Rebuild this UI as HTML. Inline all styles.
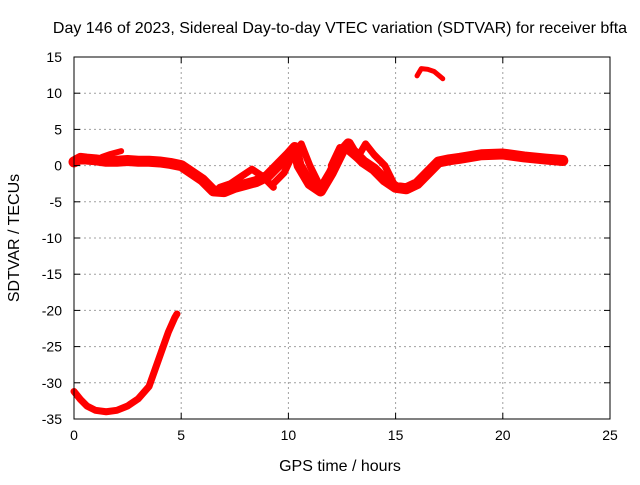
<!DOCTYPE html>
<html><head><meta charset="utf-8"><style>
body{margin:0;background:#fff}
svg text{font-family:"Liberation Sans",sans-serif;font-size:14px;fill:#000}
svg text.big{font-size:16px}
</style></head><body>
<svg id="chart" width="640" height="480">
<text class="big" x="340" y="33" text-anchor="middle">Day 146 of 2023, Sidereal Day-to-day VTEC variation (SDTVAR) for receiver bfta</text>
<g id="grid"></g><g id="series"></g><g id="axes"></g>
<text class="big" x="340" y="471" text-anchor="middle">GPS time / hours</text>
<text class="big" transform="translate(19,238) rotate(-90)" text-anchor="middle">SDTVAR / TECUs</text>
</svg>
<script>
const xTicks=[0,5,10,15,20,25];
const yTicks=[15,10,5,0,-5,-10,-15,-20,-25,-30,-35];
const mainHours=[0,0.3,0.6,1,1.5,2,2.5,3,3.5,4,4.5,5,5.5,6,6.5,7,7.5,8,8.5,9,9.5,10,10.3,10.5,10.8,11,11.5,12,12.5,12.8,13,13.5,14,14.5,15,15.5,16,16.5,17,17.5,18,19,20,21,22,22.8];
const mainValues=[0.5,1,0.9,0.8,0.6,0.6,0.7,0.6,0.6,0.5,0.3,0,-1,-2,-3.5,-3.6,-3,-2.6,-2.2,-1.5,0,1.5,2.5,0,-1.5,-2.5,-3.5,-1,2,3,2,0.5,-0.5,-2,-3,-3.2,-2.5,-1,0.5,0.8,1,1.5,1.6,1.2,0.9,0.7];
const branchAHours=[1.3,1.7,2.2];
const branchAValues=[1.2,1.6,2];
const branchBHours=[6.8,7.3,7.8,8.3,8.8,9.3];
const branchBValues=[-3,-2.5,-1.5,-0.5,-1.5,-3];
const branchCHours=[9.3,9.8,10.2,10.6,11,11.5];
const branchCValues=[-2.5,-1,1.5,3,0,-3];
const branchDHours=[12,12.4,12.8,13.2,13.6,14,14.5,15];
const branchDValues=[0,2.5,2,1,3,1.5,0,-3];
const upperHours=[16,16.2,16.5,16.8,17.2];
const upperValues=[12.4,13.4,13.3,13,12];
const lowerHours=[0,0.3,0.6,1,1.5,2,2.5,3,3.5,3.8,4.1,4.4,4.7,4.8];
const lowerValues=[-31.2,-32.3,-33.2,-33.8,-34,-33.8,-33.2,-32.2,-30.5,-28,-25.5,-23,-21,-20.5];
const L=74,R=610,T=57,B=419;
const xs=v=>L+(v-0)/25*(R-L);
const ys=v=>T+(15-v)/50*(B-T);
const NS='http://www.w3.org/2000/svg';
const g=document.getElementById('grid'),ax=document.getElementById('axes'),sg=document.getElementById('series');
function mk(tag,attrs,parent){const e=document.createElementNS(NS,tag);for(const k in attrs)e.setAttribute(k,attrs[k]);parent.appendChild(e);return e;}
xTicks.forEach(t=>{
  if(t>0&&t<25){const l=mk('line',{x1:xs(t),x2:xs(t),y1:T,y2:B,stroke:'#a0a0a0','stroke-dasharray':'2,3'},g);
  
  }
  const tx=mk('text',{x:xs(t),y:B+21,'text-anchor':'middle'},ax);tx.textContent=t;
  
  
  mk('line',{x1:xs(t),x2:xs(t),y1:B,y2:B-6,stroke:'#000'},ax);
  mk('line',{x1:xs(t),x2:xs(t),y1:T,y2:T+6,stroke:'#000'},ax);
});
yTicks.forEach(t=>{
  if(t<15&&t>-35){const l=mk('line',{x1:L,x2:R,y1:ys(t),y2:ys(t),stroke:'#a0a0a0','stroke-dasharray':'2,3'},g);
  
  }
  const tx=mk('text',{x:L-12,y:ys(t)+5,'text-anchor':'end'},ax);tx.textContent=t;
  
  
  mk('line',{x1:L,x2:L+6,y1:ys(t),y2:ys(t),stroke:'#000'},ax);
  mk('line',{x1:R,x2:R-6,y1:ys(t),y2:ys(t),stroke:'#000'},ax);
});
const box=mk('rect',{x:L,y:T,width:R-L,height:B-T,fill:'none',stroke:'#000'},ax);


function series(h,v,w,name){
  const p=mk('polyline',{points:h.map((x,i)=>xs(x)+','+ys(v[i])).join(' '),fill:'none',stroke:'#ff0000','stroke-width':w,'stroke-linejoin':'round','stroke-linecap':'round'},sg);
  
  
}
series(mainHours,mainValues,11,'sdtvar-main-trace');
series(branchAHours,branchAValues,6,'sdtvar-branch-a');
series(branchBHours,branchBValues,7,'sdtvar-branch-b');
series(branchCHours,branchCValues,7,'sdtvar-branch-c');
series(branchDHours,branchDValues,7,'sdtvar-branch-d');
series(upperHours,upperValues,5,'sdtvar-upper-trace');
series(lowerHours,lowerValues,7,'sdtvar-lower-trace');
</script>
</body></html>
